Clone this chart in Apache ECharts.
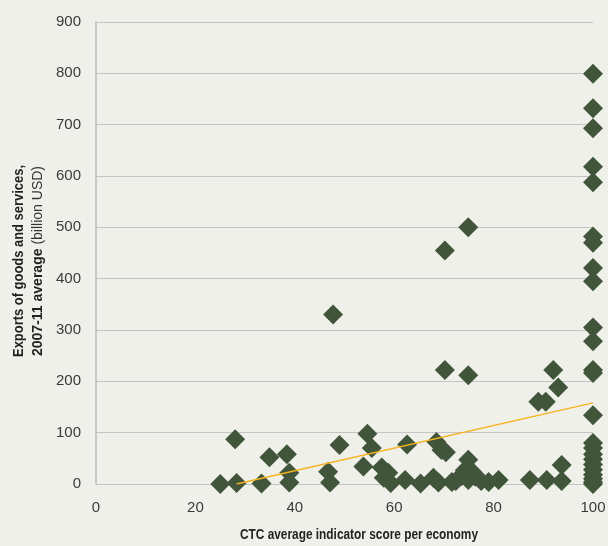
<!DOCTYPE html>
<html>
<head>
<meta charset="utf-8">
<script src="https://cdn.jsdelivr.net/npm/echarts@6/dist/echarts.min.js"></script>
<style>
html,body{margin:0;padding:0;background:#f0f0eb;}
#c{width:608px;height:546px;}
</style>
</head>
<body>
<div id="c"></div>
<script>
// CTC average indicator score per economy (x) vs exports, billion USD (y)
const scoreX = [25,28,28.3,33.3,34.9,38.4,38.9,38.9,46.7,47.1,47.7,49,53.8,54.6,55.5,57.5,57.9,58.8,59.3,62.2,
  62.6,65.3,67.9,68.5,68.9,69.5,70.4,70.2,70.2,71.6,72.4,73.5,74.2,74.9,74.9,74.9,74.9,75.6,76.3,77.5,
  79,81,87.3,89,90.5,90.7,92,93,93.7,93.7,
  100,100,100,100,100,100,100,100,100,100,100,100,100,100,100,100,100,100,100,100,100,100,100,100];
const exportsY = [0,87,2,1,52,58,22,3,24,3,330,76,34,98,70,32,12,22,2,8,
  77,1,12,82,3,66,62,455,222,4,6,15,27,47,500,212,8,25,14,6,
  4,8,8,160,160,8,222,188,37,6,
  799,732,693,618,588,482,470,421,395,305,278,222,216,134,80,70,58,48,38,28,18,10,4,0];
const trendX = [28.3,100];
const trendY = [0,158];
const xTicks = [0,20,40,60,80,100];
const yTicks = [0,100,200,300,400,500,600,700,800,900];
const xTitle = 'CTC average indicator score per economy';
const yTitle1 = 'Exports of goods and services,';
const yTitle2a = '2007-11 average';
const yTitle2b = ' (billion USD)';

const pts = scoreX.map((x,i)=>[x,exportsY[i]]);
const trend = trendX.map((x,i)=>[x,trendY[i]]);
const FONT = '"Liberation Sans",Arial,sans-serif';

// measure text to emulate a condensed face by horizontal scaling
const cv = document.createElement('canvas').getContext('2d');
function w(txt, weight, size){ cv.font = weight+' '+size+'px "Liberation Sans"'; return cv.measureText(txt).width; }
const TS = 15;
const sx = 238 / w(xTitle,'bold',TS);
const sy1 = 192 / w(yTitle1,'bold',TS);
const sy2 = 190 / (w(yTitle2a,'bold',TS) + w(yTitle2b,'normal',TS));

const chart = echarts.init(document.getElementById('c'));
chart.setOption({
  backgroundColor:'#f0f0eb',
  animation:false,
  grid:{left:96,right:15,top:22,bottom:62,containLabel:false,outerBoundsMode:'none'},
  xAxis:{
    type:'value',min:xTicks[0],max:xTicks[xTicks.length-1],interval:20,
    axisLine:{show:false},
    axisTick:{show:false},
    splitLine:{show:false},
    axisLabel:{color:'#3a3a3a',fontSize:15,fontFamily:FONT,margin:16}
  },
  yAxis:{
    type:'value',min:yTicks[0],max:yTicks[yTicks.length-1],interval:100,
    axisLine:{show:true,lineStyle:{color:'#bcbcbc',width:1.5}},
    axisTick:{show:false},
    splitLine:{show:true,lineStyle:{color:'#c4c4c4',width:1}},
    axisLabel:{color:'#3a3a3a',fontSize:15,fontFamily:FONT,margin:15}
  },
  graphic:[
    {type:'text',x:359,y:535,scaleX:sx,
     style:{text:xTitle,fill:'#222',font:'bold '+TS+'px "Liberation Sans"',align:'center',verticalAlign:'middle'}},
    {type:'text',x:19,y:261,rotation:Math.PI/2,scaleX:sy1,
     style:{text:yTitle1,fill:'#222',font:'bold '+TS+'px "Liberation Sans"',align:'center',verticalAlign:'middle'}},
    {type:'text',x:38,y:261,rotation:Math.PI/2,scaleX:sy2,
     style:{text:'{b|'+yTitle2a+'}{n|'+yTitle2b+'}',align:'center',verticalAlign:'middle',
       rich:{b:{fill:'#222',fontSize:TS,fontWeight:'bold',fontFamily:'Liberation Sans'},
             n:{fill:'#333',fontSize:TS,fontFamily:'Liberation Sans'}}}}
  ],
  series:[
    {type:'scatter',data:pts,symbol:'diamond',symbolSize:20,
     itemStyle:{color:'#40553a',opacity:1},z:2},
    {type:'line',data:trend,symbol:'none',lineStyle:{color:'#f7b21d',width:1.5},z:3}
  ]
});
</script>
</body>
</html>
